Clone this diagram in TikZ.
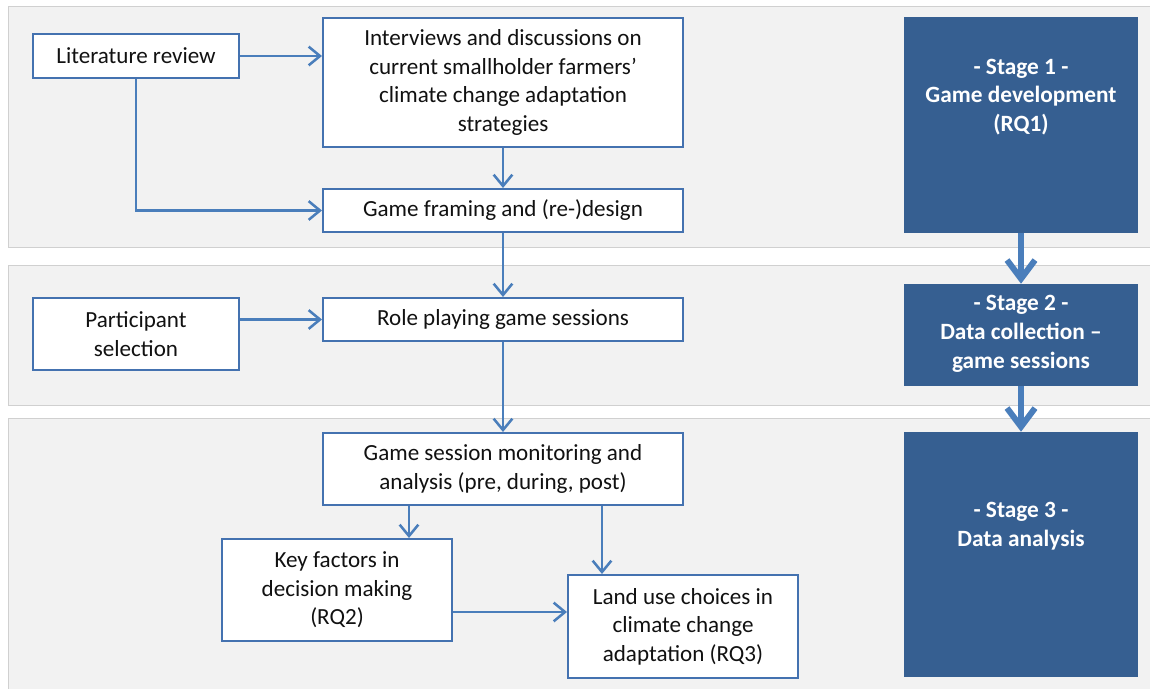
\documentclass[tikz,border=0pt]{standalone}
\usepackage{fontspec}
\setmainfont{Carlito}
\usetikzlibrary{arrows.meta}
\definecolor{bandfill}{HTML}{F2F2F2}
\definecolor{bandline}{HTML}{D0D0D0}
\definecolor{boxline}{HTML}{4472B0}
\definecolor{arrowc}{HTML}{4A7EBB}
\definecolor{stagefill}{HTML}{365F91}
\definecolor{txt}{HTML}{111111}
\begin{document}
\begin{tikzpicture}[x=0.75pt,y=-0.75pt,
 band/.style={fill=bandfill,draw=bandline,line width=0.75pt},
 wbox/.style={draw=boxline,fill=white,line width=1.5pt,align=center,text=txt,font=\fontsize{17.3}{21.4}\selectfont,inner sep=0pt},
 stagebox/.style={fill=stagefill,draw=none,inner sep=0pt},
 stagetext/.style={text=white,align=center,font=\bfseries\fontsize{17.5}{21.6}\selectfont,inner sep=0pt},
 flow/.style={draw=arrowc,line width=1.9pt,-{Straight Barb[length=8.5pt,width=14pt]}},
 bigflow/.style={draw=arrowc,line width=4.5pt,-{Straight Barb[length=14pt,width=21pt]}}
]
\useasboundingbox (0,0) rectangle (1150,689);
\fill[white] (0,0) rectangle (1150,689);
% bands
\draw[band] (8,6) rectangle (1160,247);
\draw[band] (8,265) rectangle (1160,405);
\draw[band] (8,418) rectangle (1160,695);

% white boxes
\node[wbox,minimum width=154.5pt,minimum height=33pt] (lit) at (136,56) {Literature review};
\node[wbox,minimum width=270pt,minimum height=96.75pt] (intv) at (503,82.5) {Interviews and discussions on\\current smallholder farmers’\\climate change adaptation\\strategies};
\node[wbox,minimum width=270pt,minimum height=32.25pt] (frame) at (503,210.5) {Game framing and (re-)design};
\node[wbox,minimum width=154.5pt,minimum height=54pt] (part) at (136,334) {Participant\\selection};
\node[wbox,minimum width=270pt,minimum height=32.25pt] (role) at (503,319.5) {Role playing game sessions};
\node[wbox,minimum width=270pt,minimum height=54pt] (mon) at (503,469) {Game session monitoring and\\analysis (pre, during, post)};
\node[wbox,minimum width=172.5pt,minimum height=76.5pt] (key) at (337,590) {Key factors in\\decision making\\(RQ2)};
\node[wbox,minimum width=172.5pt,minimum height=77.25pt] (land) at (683,626.5) {Land use choices in\\climate change\\adaptation (RQ3)};

% stage boxes
\node[stagebox,minimum width=175.5pt,minimum height=162pt] (s1) at (1021,125) {};
\node[stagebox,minimum width=175.5pt,minimum height=76.5pt] (s2) at (1021,335) {};
\node[stagebox,minimum width=175.5pt,minimum height=183.75pt] (s3) at (1021,554.5) {};
\node[stagetext] (s1t) at (1021,97) {- Stage 1 -\\Game development\\(RQ1)};
\node[stagetext] (s2t) at (1021,334) {- Stage 2 -\\Data collection –\\game sessions};
\node[stagetext] (s3t) at (1021,526) {- Stage 3 -\\Data analysis};

% connectors
\draw[flow] (lit.east) -- (lit.east -| intv.west);
\draw[flow] (lit.south) |- (frame.west);
\draw[flow] (intv.south) -- (frame.north);
\draw[flow] (frame.south) -- (role.north);
\draw[flow] (role.west -| part.east) -- (role.west);
\draw[flow] (role.south) -- (mon.north);
\draw[flow] ([xshift=54pt]key.north |- mon.south) -- ([xshift=54pt]key.north);
\draw[flow] ([xshift=-60.75pt]land.north |- mon.south) -- ([xshift=-60.75pt]land.north);
\draw[flow] ([yshift=-16.5pt]key.east) -- ([yshift=-16.5pt]key.east -| land.west);

\draw[bigflow] (s1.south) -- (s2.north);
\draw[bigflow] (s2.south) -- (s3.north);
\end{tikzpicture}
\end{document}
